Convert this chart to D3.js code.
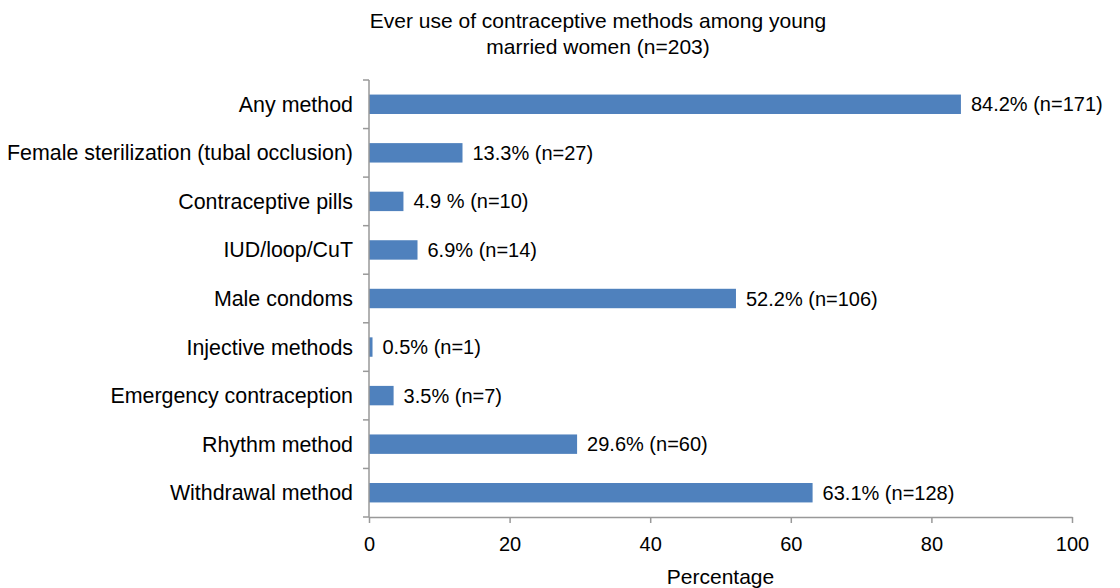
<!DOCTYPE html>
<html>
<head>
<meta charset="utf-8">
<script src="https://cdn.jsdelivr.net/npm/d3@7"></script>
<style>
  body { margin: 0; background: #fff; }
  text { font-family: "Liberation Sans", Arial, sans-serif; fill: #000; }
</style>
</head>
<body>
<div id="chart"></div>
<script>
var categories = [
  "Any method",
  "Female sterilization (tubal occlusion)",
  "Contraceptive pills",
  "IUD/loop/CuT",
  "Male condoms",
  "Injective methods",
  "Emergency contraception",
  "Rhythm method",
  "Withdrawal method"
];
var percents = [84.2, 13.3, 4.9, 6.9, 52.2, 0.5, 3.5, 29.6, 63.1];
var labels = [
  "84.2% (n=171)", "13.3% (n=27)", "4.9 % (n=10)", "6.9% (n=14)",
  "52.2% (n=106)", "0.5% (n=1)", "3.5% (n=7)", "29.6% (n=60)", "63.1% (n=128)"
];
var xTicks = [0, 20, 40, 60, 80, 100];

var width = 1120;
var height = 588;
var margin = { top: 80, right: 48, bottom: 71, left: 369 };

var svg = d3.select("#chart")
  .append("svg")
  .attr("width", width)
  .attr("height", height);

var x = d3.scaleLinear()
  .domain([0, 100])
  .range([margin.left, width - margin.right]);

var y = d3.scaleBand()
  .domain(categories)
  .range([margin.top, height - margin.bottom])
  .paddingInner(0.6)
  .paddingOuter(0.3);

// title
svg.append("text")
  .attr("x", 598)
  .attr("y", 28)
  .attr("text-anchor", "middle")
  .style("font-size", "21px")
  .text("Ever use of contraceptive methods among young");
svg.append("text")
  .attr("x", 598)
  .attr("y", 54)
  .attr("text-anchor", "middle")
  .style("font-size", "21px")
  .text("married women (n=203)");

// bars
svg.append("g")
  .selectAll("rect")
  .data(categories)
  .join("rect")
  .attr("x", x(0))
  .attr("y", (d) => y(d))
  .attr("width", (d, i) => x(percents[i]) - x(0))
  .attr("height", y.bandwidth())
  .attr("fill", "#4F81BD");

// value labels
svg.append("g")
  .selectAll("text")
  .data(categories)
  .join("text")
  .attr("x", (d, i) => x(percents[i]) + 10)
  .attr("y", (d) => y(d) + y.bandwidth() / 2)
  .attr("dy", "0.35em")
  .style("font-size", "20px")
  .text((d, i) => labels[i]);

// y axis: ticks at category boundaries
var step = y.step();
var boundaries = d3.range(categories.length + 1).map((i) => margin.top + i * step);
var yg = svg.append("g");
yg.append("line")
  .attr("x1", x(0)).attr("x2", x(0))
  .attr("y1", margin.top).attr("y2", height - margin.bottom)
  .attr("stroke", "#999").attr("stroke-width", 1.5);
yg.selectAll("line.tick")
  .data(boundaries)
  .join("line")
  .attr("class", "tick")
  .attr("x1", x(0) - 6).attr("x2", x(0))
  .attr("y1", (d) => d).attr("y2", (d) => d)
  .attr("stroke", "#999").attr("stroke-width", 1.5);
yg.selectAll("text")
  .data(categories)
  .join("text")
  .attr("x", x(0) - 16)
  .attr("y", (d) => y(d) + y.bandwidth() / 2)
  .attr("dy", "0.35em")
  .attr("text-anchor", "end")
  .style("font-size", "21.4px")
  .text((d) => d);

// x axis
var xg = svg.append("g")
  .attr("transform", `translate(0, ${height - margin.bottom})`)
  .call(d3.axisBottom(x).tickValues(xTicks).tickSize(6).tickSizeOuter(0).tickPadding(14));
xg.select(".domain").attr("stroke", "#999").attr("stroke-width", 1.5);
xg.selectAll(".tick line").attr("stroke", "#999").attr("stroke-width", 1.5);
xg.selectAll(".tick text")
  .style("font-size", "20px")
  .style("font-family", "Liberation Sans, Arial, sans-serif")
  .attr("fill", "#000");

svg.append("text")
  .attr("x", x(50))
  .attr("y", 584)
  .attr("text-anchor", "middle")
  .style("font-size", "21px")
  .text("Percentage");
</script>
</body>
</html>
